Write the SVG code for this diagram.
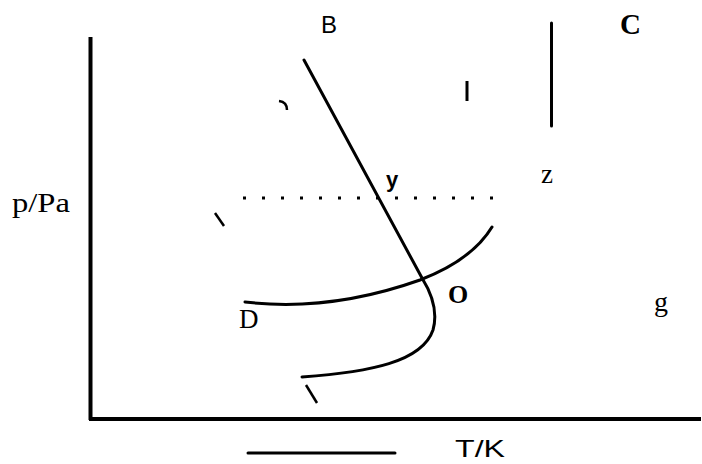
<svg xmlns="http://www.w3.org/2000/svg" width="702" height="464" viewBox="0 0 702 464">
<style>
.ax{stroke:#000;stroke-width:4;fill:none}
.ln{stroke:#000;stroke-width:3;fill:none;stroke-linecap:round}
.mk{stroke:#000;stroke-width:2.5;fill:none}
.sans{font-family:'Liberation Sans',Arial,sans-serif}
.serif{font-family:'Liberation Serif','Times New Roman',serif}
</style>
<rect width="702" height="464" fill="#fff"/>
<g id="axes">
<line class="ax" x1="90.5" y1="37" x2="90.5" y2="420"/>
<line class="ax" x1="89" y1="419" x2="701" y2="419"/>
<line class="ln" x1="248" y1="453" x2="395" y2="453" stroke-linecap="butt"/>
<line class="ln" x1="551.5" y1="23" x2="551.5" y2="126" stroke-linecap="butt"/>
</g>
<g id="connectors">
<path id="curve-BO" class="ln" d="M304,60 L422,278 C432,294 438,312 433,330 C422,362 370,372 302,377"/>
<path id="curve-DO" class="ln" d="M245,302 Q330,312 420,280 Q472,260 492,227"/>
<line id="dotted" x1="243" y1="198" x2="495" y2="198" stroke="#000" stroke-width="3" stroke-dasharray="3,16"/>
</g>
<g id="marks">
<line class="mk" x1="215" y1="213" x2="224" y2="226"/>
<line class="mk" x1="306" y1="385" x2="317" y2="403"/>
<path class="mk" d="M279,101 Q287,102 287,110"/>
<line x1="467" y1="81" x2="467" y2="101" stroke="#000" stroke-width="3"/>
</g>
<g id="labels" fill="#000">
<text class="sans" x="321" y="33" font-size="24">B</text>
<text class="serif" x="620" y="34" font-size="29" font-weight="bold">C</text>
<text class="serif" x="541" y="183" font-size="27">z</text>
<text class="sans" x="386" y="187" font-size="22" font-weight="bold">y</text>
<text class="serif" x="448" y="303" font-size="26" font-weight="bold">O</text>
<text class="serif" x="239" y="328" font-size="27">D</text>
<text class="serif" x="654" y="311" font-size="28">g</text>
<text class="serif" x="12" y="212" font-size="27" textLength="58" lengthAdjust="spacingAndGlyphs">p/Pa</text>
<text class="sans" x="455" y="457" font-size="24" textLength="50" lengthAdjust="spacingAndGlyphs">T/K</text>
</g>
</svg>
